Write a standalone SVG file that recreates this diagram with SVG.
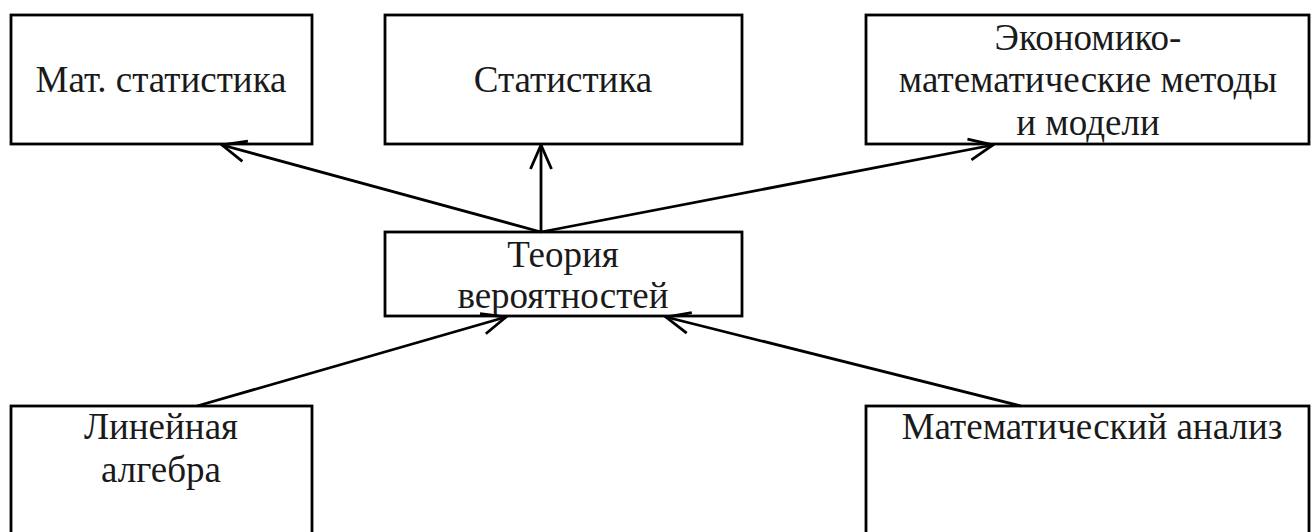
<svg xmlns="http://www.w3.org/2000/svg" width="1311" height="532" viewBox="0 0 1311 532">
<style>
.box{fill:#fff;stroke:#000;stroke-width:2.8}
.t{font-family:"Liberation Serif","Times New Roman",serif;font-size:37px;fill:#1a1a1a;text-anchor:middle}
.c{stroke:#000;stroke-width:2.8;fill:none}
</style>
<defs>
<marker id="ah" viewBox="0 0 28 28" refX="26" refY="14" markerWidth="28" markerHeight="28" markerUnits="userSpaceOnUse" orient="auto">
<path d="M2,3.5 L26,14 L2,24.5" fill="none" stroke="#000" stroke-width="2.8"/>
</marker>
</defs>
<g id="n1"><rect class="box" x="11" y="15" width="301" height="129"/><text class="t" x="161" y="92">Мат. статистика</text></g>
<g id="n2"><rect class="box" x="385" y="15" width="357" height="129"/><text class="t" x="563" y="92">Статистика</text></g>
<g id="n3"><rect class="box" x="866" y="15" width="443" height="129"/><text class="t" x="1088" y="50">Экономико-</text><text class="t" x="1088" y="92">математические методы</text><text class="t" x="1088" y="135">и модели</text></g>
<g id="n4"><rect class="box" x="385" y="232" width="357" height="84"/><text class="t" x="563" y="267">Теория</text><text class="t" x="563" y="308">вероятностей</text></g>
<g id="n5"><rect class="box" x="11" y="406" width="301" height="140"/><text class="t" x="161" y="439">Линейная</text><text class="t" x="161" y="482">алгебра</text></g>
<g id="n6"><rect class="box" x="866" y="406" width="443" height="140"/><text class="t" x="1092" y="439">Математический анализ</text></g>
<g id="connectors">
<line class="c" x1="541" y1="232" x2="222" y2="145" marker-end="url(#ah)"/>
<line class="c" x1="541" y1="232" x2="541" y2="145" marker-end="url(#ah)"/>
<line class="c" x1="541" y1="232" x2="993" y2="145" marker-end="url(#ah)"/>
<line class="c" x1="197" y1="406" x2="506" y2="317" marker-end="url(#ah)"/>
<line class="c" x1="1021" y1="406" x2="666" y2="317" marker-end="url(#ah)"/>
</g>
</svg>
